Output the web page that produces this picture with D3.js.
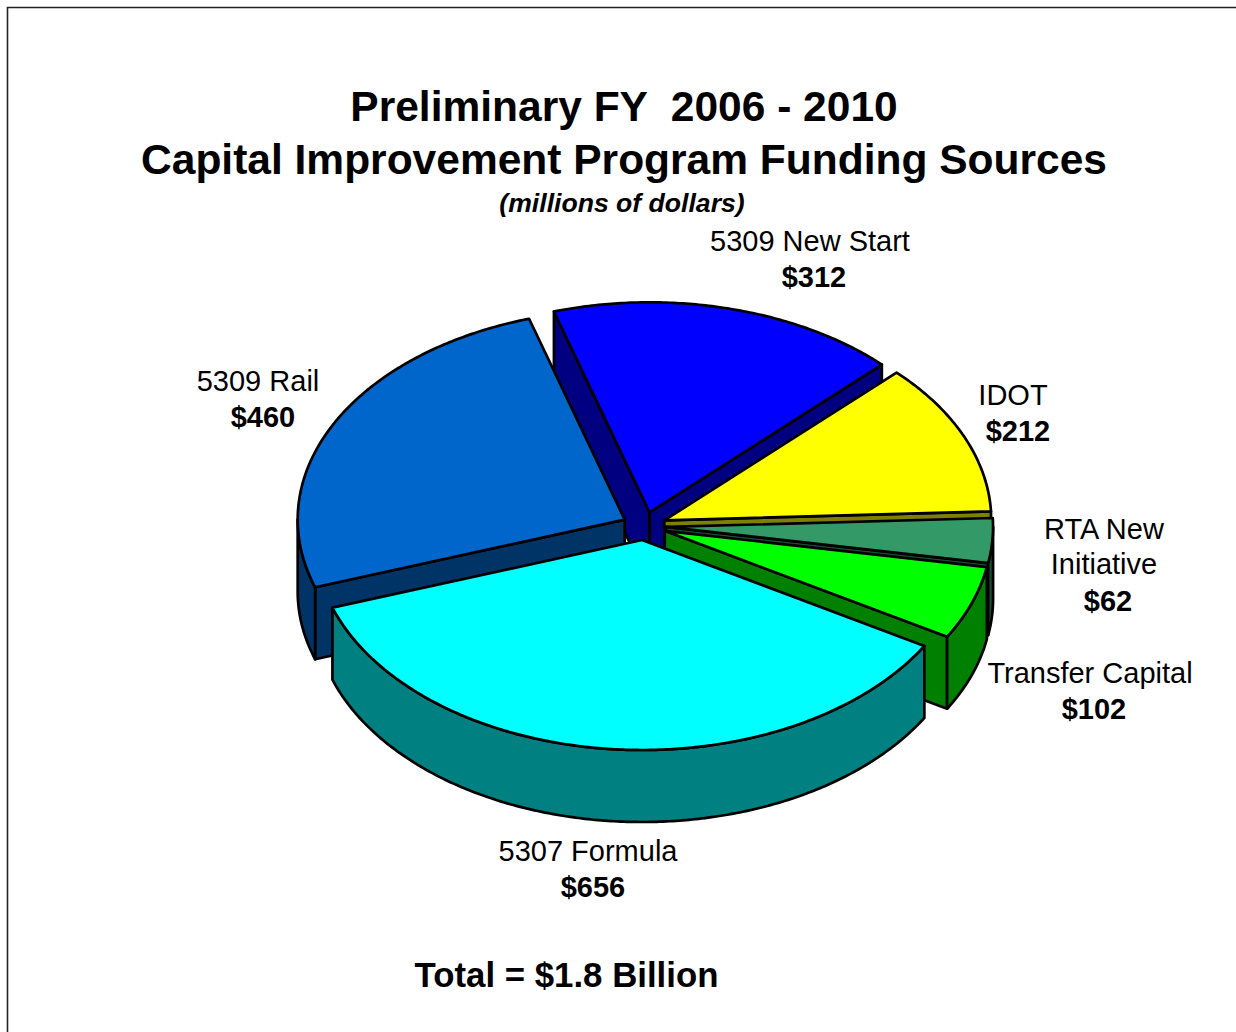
<!DOCTYPE html>
<html>
<head>
<meta charset="utf-8">
<title>Capital Improvement Program Funding Sources</title>
<script src="https://cdn.jsdelivr.net/npm/d3@7"></script>
<style>
    html, body { margin: 0; padding: 0; background: #fff; }
    svg { display: block; font-family: "Liberation Sans", Arial, sans-serif; }
</style>
</head>
<body>
<svg id="chart" width="1236" height="1032"></svg>
<script>
// chart data, clockwise from the first slice
var categories = ["5309 New Start", "IDOT", "RTA New Initiative", "Transfer Capital", "5307 Formula", "5309 Rail"];
var values = [312, 212, 62, 102, 656, 460];
var value_labels = ["$312", "$212", "$62", "$102", "$656", "$460"];
var top_colors = ["#0000ff", "#ffff00", "#339966", "#00ff00", "#00ffff", "#0066cc"];
var wall_colors = ["#000080", "#808000", "#1a4d33", "#008000", "#008080", "#003366"];

// where the text of each slice goes: centre x, first baseline, line breaks
var label_layout = [
    {x: 810, y: 250.5, lines: ["5309 New Start"], vx: 814},
    {x: 1013, y: 404.5, lines: ["IDOT"], vx: 1018},
    {x: 1104, y: 538.5, lines: ["RTA New", "Initiative"], vx: 1108},
    {x: 1090, y: 682.5, lines: ["Transfer Capital"], vx: 1094},
    {x: 588, y: 860.5, lines: ["5307 Formula"], vx: 593},
    {x: 258, y: 390.5, lines: ["5309 Rail"], vx: 263}
];

var svg = d3.select("#chart");

var center_x = 644.2, center_y = 526;
var radius_x = 327, radius_y = 210;
var depth = 72;
var explode = 0.067;
var first_angle = -17 * Math.PI / 180;

// unit circle -> projected ellipse
var scale_x = d3.scaleLinear().domain([-1, 1]).range([center_x - radius_x, center_x + radius_x]);
var scale_y = d3.scaleLinear().domain([-1, 1]).range([center_y - radius_y, center_y + radius_y]);

var pie = d3.pie()
    .sort(null)
    .startAngle(first_angle)
    .endAngle(first_angle + 2 * Math.PI);

var line = d3.line();

function build_slices() {
    return pie(values).map(function (d, i) {
        var mid = (d.startAngle + d.endAngle) / 2;
        return {
            index: i,
            start: d.startAngle,
            end: d.endAngle,
            mid: mid,
            dx: scale_x(explode * Math.sin(mid)) - scale_x(0),
            dy: scale_y(-explode * Math.cos(mid)) - scale_y(0)
        };
    });
}

function rim_point(slice, angle, drop) {
    return [
        scale_x(Math.sin(angle)) + slice.dx,
        scale_y(-Math.cos(angle)) + slice.dy + drop
    ];
}

function rim_points(slice, from, to, drop) {
    var steps = Math.max(2, Math.ceil((to - from) / 0.01));
    return d3.range(steps + 1).map(function (k) {
        return rim_point(slice, from + (to - from) * k / steps, drop);
    });
}

function apex(slice, drop) {
    return [scale_x(0) + slice.dx, scale_y(0) + slice.dy + drop];
}

function draw_face(points, fill) {
    svg.append("path")
        .attr("d", line(points) + "Z")
        .attr("fill", fill)
        .attr("stroke", "#000")
        .attr("stroke-width", 2.7)
        .attr("stroke-linejoin", "round");
}

function draw_cut(slice, angle) {
    draw_face([apex(slice, 0), rim_point(slice, angle, 0), rim_point(slice, angle, depth), apex(slice, depth)], wall_colors[slice.index]);
}

function draw_slice(slice) {
    var wall = wall_colors[slice.index];

    // cut faces, skip the ones that look away from the viewer
    if (Math.sin(slice.start) < 0) draw_cut(slice, slice.start);
    if (Math.sin(slice.end) > 0) draw_cut(slice, slice.end);

    // outer wall, only the part that faces the viewer (90deg to 270deg)
    var from = Math.max(slice.start, Math.PI / 2);
    var to = Math.min(slice.end, 3 * Math.PI / 2);
    if (to > from) {
        var upper = rim_points(slice, from, to, 0);
        var lower = rim_points(slice, from, to, depth).reverse();
        draw_face(upper.concat(lower), wall);
    }

    // top face
    draw_face([apex(slice, 0)].concat(rim_points(slice, slice.start, slice.end, 0)), top_colors[slice.index]);
}

function draw_pie() {
    var slices = build_slices();
    // paint from the back of the pie to the front
    slices.sort(function (a, b) { return d3.ascending(a.dy, b.dy); });
    slices.forEach(draw_slice);
}

function draw_frame() {
    svg.append("path")
        .attr("d", "M7.5,1032V7.5H1236")
        .attr("fill", "none")
        .attr("stroke", "#222")
        .attr("stroke-width", 1.6);
}

function draw_text() {
    var titles = [
        {text: "Preliminary FY  2006 - 2010", x: 624, y: 121, size: 42.5, weight: "bold"},
        {text: "Capital Improvement Program Funding Sources", x: 624, y: 174, size: 42.5, weight: "bold"},
        {text: "(millions of dollars)", x: 622, y: 212, size: 26.6, weight: "bold", style: "italic"},
        {text: "Total = $1.8 Billion", x: 566.5, y: 987, size: 34.8, weight: "bold"}
    ];

    svg.selectAll("text.title")
        .data(titles)
        .enter().append("text")
        .attr("class", "title")
        .attr("x", function (d) { return d.x; })
        .attr("y", function (d) { return d.y; })
        .attr("text-anchor", "middle")
        .attr("font-size", function (d) { return d.size; })
        .attr("font-weight", function (d) { return d.weight; })
        .attr("font-style", function (d) { return d.style || "normal"; })
        .attr("xml:space", "preserve")
        .style("white-space", "pre")
        .text(function (d) { return d.text; });

    label_layout.forEach(function (layout, i) {
        var line_height = 35.5;
        layout.lines.forEach(function (text, k) {
            svg.append("text")
                .attr("x", layout.x)
                .attr("y", layout.y + k * line_height)
                .attr("text-anchor", "middle")
                .attr("font-size", 29)
                .text(text);
        });
        svg.append("text")
            .attr("x", layout.vx)
            .attr("y", layout.y + (layout.lines.length - 1) * line_height + 36.5)
            .attr("text-anchor", "middle")
            .attr("font-size", 29)
            .attr("font-weight", "bold")
            .text(value_labels[i]);
    });
}

draw_frame();
draw_pie();
draw_text();
</script>
</body>
</html>
